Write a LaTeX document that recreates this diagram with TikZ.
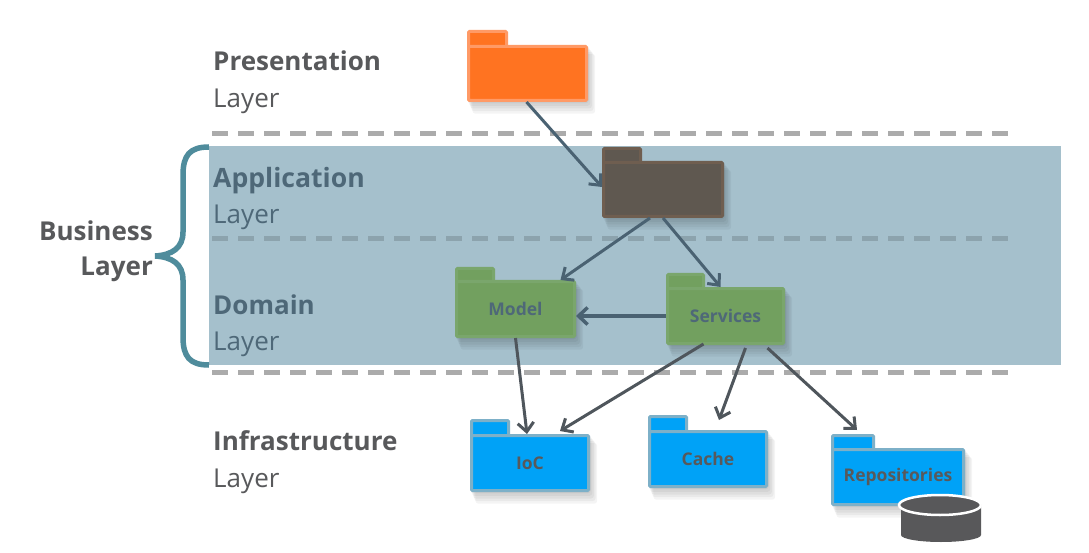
\documentclass[tikz,border=0pt]{standalone}
\usepackage{fontspec}
\setmainfont{Open Sans}
\usetikzlibrary{arrows.meta,calc}
\definecolor{band}{HTML}{A5C0CC}
\definecolor{dashgray}{HTML}{ABABAB}
\definecolor{dashband}{HTML}{8CA3AD}
\definecolor{bracecol}{HTML}{4F8C9C}
\definecolor{txt}{HTML}{58595B}
\definecolor{txtband}{HTML}{4E6878}
\definecolor{arrowcol}{HTML}{4F565C}
\definecolor{arrowband}{HTML}{4A6272}
\definecolor{orfill}{HTML}{FF7321}
\definecolor{orline}{HTML}{FF9A66}
\definecolor{dkfill}{HTML}{5F5850}
\definecolor{dkline}{HTML}{6F5E50}
\definecolor{grfill}{HTML}{72A05F}
\definecolor{grline}{HTML}{7AA66C}
\definecolor{blfill}{HTML}{00A2F7}
\definecolor{blline}{HTML}{7DB0C8}
\definecolor{cyl}{HTML}{58585A}
\tikzset{
  x=1pt,y=-1pt,
  layerlabel/.style={anchor=north west,align=left,inner sep=0pt,text=txt,font=\fontsize{26}{37}\selectfont},
  bandlabel/.style={layerlabel,text=txtband},
  bodybox/.style={draw=#1,line width=3pt,rounded corners=1pt,inner sep=0pt},
  foldertext/.style={font=\fontsize{17.5}{20}\selectfont\bfseries},
  dashline/.style={line width=5pt,dash pattern=on 16pt off 10pt},
  conn/.style={draw=arrowcol,line width=3pt,-{Straight Barb[length=9pt,width=16pt,line width=3pt]}},
  connband/.style={conn,draw=arrowband},
  thickconn/.style={conn,draw=arrowband,line width=4.5pt,-{Straight Barb[length=9pt,width=17pt,line width=3.5pt]}},
}
% name, x0, tabtop, tabright, bodytop, x1, y1, fill, line, textcolor, text
\newcommand{\folderbox}[9]{%
  \def\fldN{#1}\def\fldA{#2}\def\fldT{#3}\def\fldR{#4}\def\fldB{#5}\def\fldE{#6}\def\fldY{#7}\def\fldF{#8}\def\fldL{#9}\folderrest}
\newcommand{\folderrest}[2]{%
  \foreach \s in {1,3,5,7,9}{
    \fill[black,opacity=0.045,rounded corners=3pt] (\fldA+\s*0.6,\fldB+\s*1.0) rectangle (\fldE+\s*0.8,\fldY+\s*1.3);
  }
  \draw[draw=\fldL,fill=\fldF,line width=3pt,rounded corners=1pt]
     (\fldA+1.5,\fldB+2) -- (\fldA+1.5,\fldT+1.5) -- (\fldR-1.5,\fldT+1.5) -- (\fldR-1.5,\fldB+2);
  \node[bodybox=\fldL,fill=\fldF,minimum width=\fldE-\fldA-3,minimum height=\fldY-\fldB-3,text=#1,foldertext]
     (\fldN) at ({(\fldA+\fldE)/2},{(\fldB+\fldY)/2}) {#2};
}
\begin{document}
\begin{tikzpicture}
\useasboundingbox (0,0) rectangle (1089,553);
\fill[white] (0,0) rectangle (1089,553);
% band
\fill[band] (209,146) rectangle (1061,365);
% dashed separators
\coordinate (d1a) at (212,134); \coordinate (d1b) at (1010,134);
\coordinate (d2a) at (212,239); \coordinate (d2b) at (1010,239);
\coordinate (d3a) at (212,372); \coordinate (d3b) at (1010,372);
\draw[dashline,dashgray] (d1a) -- (d1b);
\draw[dashline,dashband] (d2a) -- (d2b);
\draw[dashline,dashgray] (d3a) -- (d3b);
% brace
\draw[bracecol,line width=5.5pt]
  (209,147) .. controls (190,147) and (183,155) .. (183,175)
  -- (183,232) .. controls (183,248) and (172,255) .. (155,256)
  .. controls (172,257) and (183,264) .. (183,280)
  -- (183,337) .. controls (183,357) and (190,365) .. (209,365);
% labels
\node[layerlabel] (lp) at (213,51) {\textbf{Presentation}\\Layer};
\node[bandlabel,font=\fontsize{26}{36}\selectfont] (la) at (213,167) {\textbf{\fontsize{26.6}{36}\selectfont Application}\\Layer};
\node[bandlabel,font=\fontsize{26}{35.5}\selectfont] (ld) at (213,295) {\textbf{Domain}\\Layer};
\node[layerlabel] (li) at (213,430) {\textbf{Infrastructure}\\Layer};
\node[anchor=north east,align=right,inner sep=0pt,text=txt,font=\fontsize{26}{35}\selectfont\bfseries] (lb) at (153,221) {Business\\Layer};
% folders
\folderbox{orange}{467}{30}{508}{45}{588}{102}{orfill}{orline}{txt}{}
\folderbox{dark}{602}{147}{642}{161}{724}{218}{dkfill}{dkline}{txt}{}
\folderbox{model}{455}{267}{495}{280}{576}{338}{grfill}{grline}{txtband}{Model}
\folderbox{services}{666}{273}{705}{287}{785}{345}{grfill}{grline}{txtband}{Services}
\folderbox{ioc}{470}{419}{510}{434}{590}{492}{blfill}{blline}{txt}{IoC}
\folderbox{cache}{648}{415}{688}{430}{768}{488}{blfill}{blline}{txt}{Cache}
\folderbox{repos}{831}{434}{875}{448}{965}{506}{blfill}{blline}{txt}{Repositories}
% database
\fill[cyl] (901,504) -- (981,504) -- (981,535) arc[start angle=0,end angle=180,x radius=40,y radius=7] -- cycle;
\draw[white,line width=2.5pt,fill=cyl] (981,505) arc[start angle=0,end angle=360,x radius=41,y radius=10];
% connectors
\draw[connband] ([xshift=-1pt]orange.south) -- ([yshift=2.5pt]dark.west);
\draw[connband] ([xshift=-13pt]dark.south) -- ([xshift=-15.5pt]model.north east);
\draw[connband] (dark.south) -- ([xshift=-5pt]services.north);
\draw[thickconn] (services.west) -- ([yshift=-7pt]model.east);
\draw[conn] (model.south) -- ([xshift=-3pt]ioc.north);
\draw[conn] ([xshift=-22pt,yshift=1pt]services.south) -- ([xshift=30pt,yshift=3pt]ioc.north);
\draw[conn] ([xshift=20pt,yshift=-3pt]services.south) -- ([xshift=11pt,yshift=10pt]cache.north);
\draw[conn] ([xshift=42pt,yshift=-3pt]services.south) -- ([xshift=-41pt,yshift=18pt]repos.north);
\end{tikzpicture}
\end{document}
